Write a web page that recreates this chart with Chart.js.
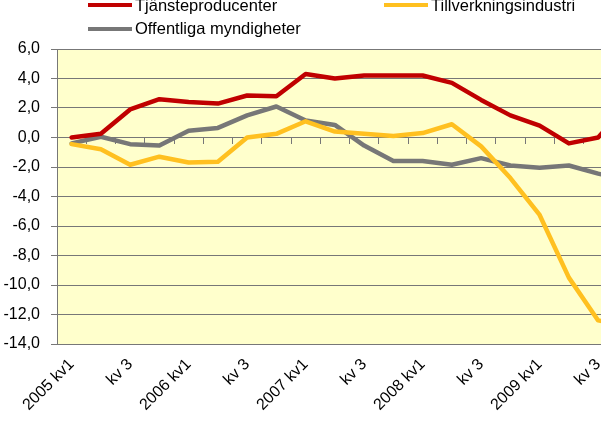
<!DOCTYPE html>
<html>
<head>
<meta charset="utf-8">
<script src="https://cdn.jsdelivr.net/npm/chart.js@4.4.0/dist/chart.umd.min.js"></script>
<style>
  html, body { margin: 0; padding: 0; background: #fff; overflow: hidden; width: 601px; height: 421px; }
  #wrap { position: relative; width: 601px; height: 421px; overflow: hidden; }
  canvas { position: absolute; left: 0; top: 0; }
  .leg { position: absolute; height: 19px; line-height: 19px; display: flex; align-items: center;
         font: 16.5px "Liberation Sans", Arial, sans-serif; color: #000; white-space: nowrap; }
  .leg i { display: inline-block; width: 44px; height: 4px; margin-right: 3px; }
</style>
</head>
<body>
<div id="wrap">
  <canvas id="chart" width="660" height="421"></canvas>
</div>
<script>
// quarters 2005 kv1 .. 2009 kv4 (last one runs off the right edge)
const quarters = [
  "2005 kv1", "kv 2", "kv 3", "kv 4",
  "2006 kv1", "kv 2", "kv 3", "kv 4",
  "2007 kv1", "kv 2", "kv 3", "kv 4",
  "2008 kv1", "kv 2", "kv 3", "kv 4",
  "2009 kv1", "kv 2", "kv 3", "kv 4"
];

const seriesNames = ["Tjänsteproducenter", "Tillverkningsindustri", "Offentliga myndigheter"];

const tjanste = [0.0, 0.25, 1.9, 2.6, 2.4, 2.3, 2.85, 2.8, 4.3, 4.0, 4.2, 4.2, 4.2, 3.7, 2.55, 1.5, 0.8, -0.4, 0.0, 2.2];
const tillverkning = [-0.45, -0.8, -1.85, -1.3, -1.7, -1.65, 0.0, 0.25, 1.1, 0.4, 0.25, 0.1, 0.3, 0.9, -0.6, -2.75, -5.25, -9.5, -12.4, -12.8];
const offentliga = [-0.4, 0.05, -0.45, -0.55, 0.45, 0.65, 1.5, 2.1, 1.15, 0.85, -0.55, -1.6, -1.6, -1.85, -1.4, -1.9, -2.05, -1.9, -2.45, -2.9];

const colors = ["#C00000", "#FFC020", "#777777"];

// legend (two columns, like the original)
const legendPos = [[88, -4.5], [384, -4.5], [88, 19]];
seriesNames.forEach((name, i) => {
  const d = document.createElement("div");
  d.className = "leg";
  d.style.left = legendPos[i][0] + "px";
  d.style.top = legendPos[i][1] + "px";
  d.innerHTML = '<i style="background:' + colors[i] + '"></i><span></span>';
  d.querySelector("span").textContent = name;
  document.getElementById("wrap").appendChild(d);
});

const plotBg = {
  id: "plotBg",
  beforeDraw(chart) {
    const { ctx, chartArea: a } = chart;
    ctx.save();
    ctx.fillStyle = "#FFFFCC";
    ctx.fillRect(a.left, a.top, a.right - a.left, a.bottom - a.top);
    ctx.restore();
  }
};

Chart.defaults.font.family = '"Liberation Sans", Arial, sans-serif';
Chart.defaults.font.size = 16;
Chart.defaults.color = "#000";

const lineStyle = {
  borderWidth: 4.5,
  pointRadius: 0,
  pointHoverRadius: 0,
  fill: false,
  tension: 0,
  borderJoinStyle: "round",
  borderCapStyle: "round"
};

new Chart(document.getElementById("chart"), {
  type: "line",
  data: {
    labels: quarters,
    datasets: [
      { label: seriesNames[0], data: tjanste, borderColor: colors[0], ...lineStyle },
      { label: seriesNames[1], data: tillverkning, borderColor: colors[1], ...lineStyle },
      { label: seriesNames[2], data: offentliga, borderColor: colors[2], ...lineStyle }
    ]
  },
  options: {
    responsive: false,
    animation: false,
    layout: { padding: { top: 49, right: 18, left: 0, bottom: 0 } },
    plugins: { legend: { display: false }, tooltip: { enabled: false } },
    scales: {
      x: {
        offset: true,
        grid: { display: false, drawTicks: false },
        border: { display: false },
        ticks: {
          autoSkip: false,
          minRotation: 45,
          maxRotation: 45,
          padding: 11,
          callback(v, i) { return i % 2 === 0 ? this.getLabelForValue(v) : ""; }
        },
        afterFit(s) { s.height = 77; }
      },
      x0: {
        type: "category",
        axis: "x",
        position: { y: 0 },
        offset: true,
        grid: { offset: true, drawOnChartArea: false, drawTicks: true, tickLength: 6, color: "#777777" },
        border: { display: false },
        ticks: { display: false }
      },
      y: {
        min: -14,
        max: 6,
        ticks: {
          stepSize: 2,
          padding: 11,
          callback: v => v.toFixed(1).replace(".", ",")
        },
        grid: { color: "#777777", tickLength: 6 },
        border: { color: "#777777" },
        afterFit(s) { s.width = 57; }
      }
    }
  },
  plugins: [plotBg]
});
</script>
</body>
</html>
